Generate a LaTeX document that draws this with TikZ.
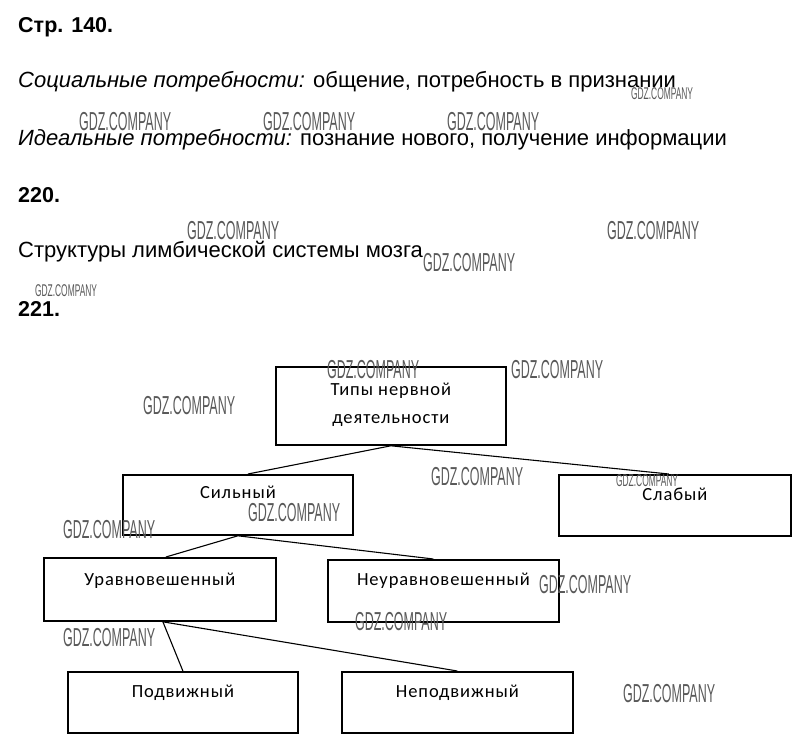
\documentclass[tikz,border=0pt]{standalone}
\usepackage{fontspec}
\setmainfont{Liberation Sans}
\newfontfamily\boxfont[LetterSpace=5]{Carlito}
\usetikzlibrary{positioning, calc}

\begin{document}
\begin{tikzpicture}[x=1pt, y=-1pt,
  line/.style={anchor=base west, inner sep=0pt, font=\fontsize{22}{26}\selectfont},
  typebox/.style={draw, line width=1.8pt, anchor=north west, inner xsep=0pt, inner ysep=0pt, font=\boxfont\fontsize{18.5}{28}\selectfont},
  wm/.style={anchor=base west, inner sep=0pt, xscale=0.48, transform shape, text=black!65, font=\fontsize{26}{26}\selectfont},
  wmsmall/.style={wm, xscale=1.03, font=\fontsize{17}{17}\selectfont},
  link/.style={line width=1.1pt}]

\useasboundingbox (0,0) rectangle (806,749);

\node[line, font=\bfseries\fontsize{21.5}{25}\selectfont] (page) at (18,33) {Стр. 140.};
\node[line] (social) at (18,88) {\textit{Социальные потребности:} общение, потребность в признании};
\node[line] (ideal) at (18,146) {\textit{Идеальные потребности:} познание нового, получение информации};
\node[line, font=\bfseries\fontsize{21.5}{25}\selectfont] (task220) at (18,202) {220.};
\node[line] (limbic) at (18,257) {Структуры лимбической системы мозга};
\node[line, font=\bfseries\fontsize{21.5}{25}\selectfont] (task221) at (18,316) {221.};

\node[typebox, minimum width=230pt, align=center, text height=57pt, text depth=21pt] (types) at (275,366) {Типы нервной\\деятельности};
\node[typebox, minimum width=230pt, text height=24pt, text depth=36pt] (strong) at (122,474) {Сильный};
\node[typebox, minimum width=232pt, text height=26pt, text depth=35pt] (weak) at (558,474) {Слабый};
\node[typebox, minimum width=232pt, text height=28pt, text depth=35pt] (balanced) at (43,557) {Уравновешенный};
\node[typebox, minimum width=231pt, text height=26pt, text depth=36pt] (unbalanced) at (327,559) {Неуравновешенный};
\node[typebox, minimum width=230pt, text height=26pt, text depth=35pt] (mobile) at (67,671) {Подвижный};
\node[typebox, minimum width=231pt, text height=26pt, text depth=35pt] (inert) at (341,671) {Неподвижный};

\draw[link] (types.south) -- ([xshift=10pt]strong.north);
\draw[link] (types.south) -- ([xshift=-6pt]weak.north);
\draw[link] (strong.south) -- ([xshift=6pt]balanced.north);
\draw[link] (strong.south) -- ([xshift=-10pt]unbalanced.north);
\draw[link] ([xshift=3pt]balanced.south) -- (mobile.north);
\draw[link] ([xshift=3pt]balanced.south) -- (inert.north);

\foreach \x/\y in {79/131, 263/131, 447/131, 187/239, 607/239, 423/271, 327/378, 511/378,
  143/414, 431/485, 248/521, 63/538, 539/593, 355/630, 63/646, 623/702}
  \node[wm] (wm-\x-\y) at (\x,\y) {GDZ.COMPANY};
\foreach \x/\y in {631/100, 35/296, 616/486}
  \node[wmsmall] (wms-\x-\y) at (\x,\y) {GDZ.COMPANY};

\end{tikzpicture}
\end{document}
